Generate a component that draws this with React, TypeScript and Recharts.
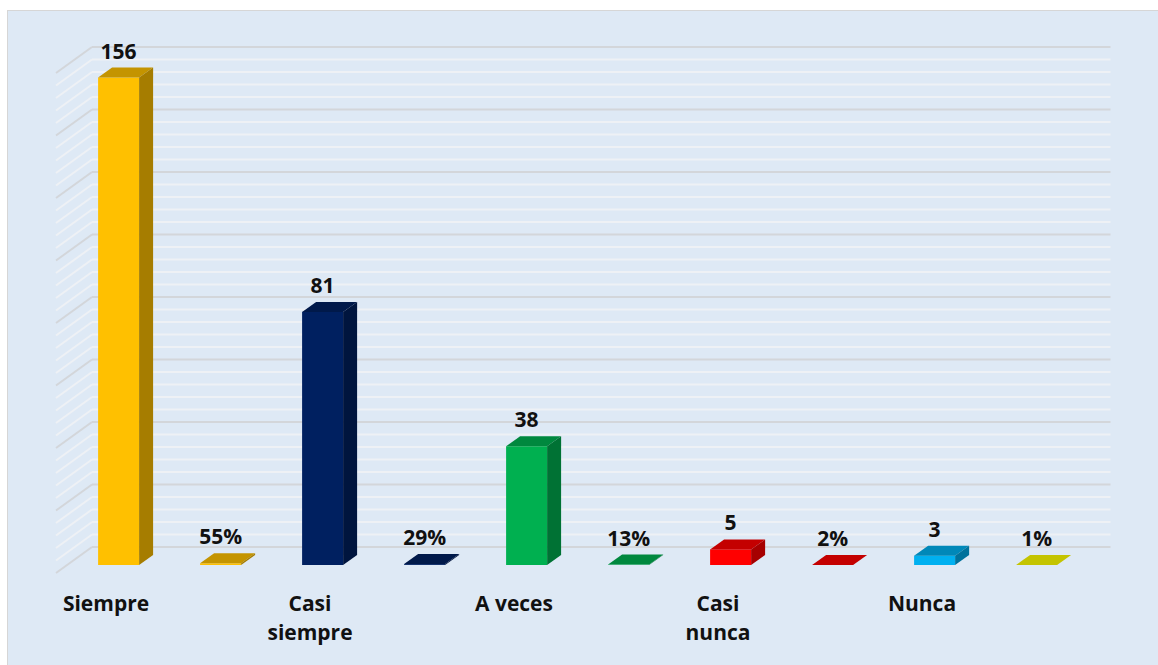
import React from 'react';
import { BarChart, Bar, XAxis, YAxis, CartesianGrid, LabelList } from 'recharts';

const categories = ['Siempre', 'Casi siempre', 'A veces', 'Casi nunca', 'Nunca'];
const counts = [156, 81, 38, 5, 3];
const percents = [55, 29, 13, 2, 1];
const countColors = ['#FFC000', '#002060', '#00B050', '#FF0000', '#00B0F0'];
const percentColors = ['#FFC000', '#002060', '#00B050', '#FF0000', '#FFFF00'];
const majorTicks = [0, 20, 40, 60, 80, 100, 120, 140, 160];

// each major step split in 5 minor lines (as on the back wall)
const gridTicks = majorTicks.flatMap((t, i) =>
  i === majorTicks.length - 1 ? [t] : [0, 1, 2, 3, 4].map((k) => t + (k * (majorTicks[1] - majorTicks[0])) / 5)
);

// count bar then percent bar for every answer
const rows = categories.flatMap((label, i) => [
  { key: `c${i}`, label, value: counts[i], text: String(counts[i]), color: countColors[i] },
  { key: `p${i}`, label: '', value: percents[i] / 100, text: `${percents[i]}%`, color: percentColors[i] },
]);

const FONT = '"Open Sans", "Noto Sans", sans-serif';
const DX = 14; // bar depth
const DY = 10;

const shade = (hex: string, f: number) => {
  const n = parseInt(hex.slice(1), 16);
  const r = Math.round(((n >> 16) & 255) * f);
  const g = Math.round(((n >> 8) & 255) * f);
  const b = Math.round((n & 255) * f);
  return `rgb(${r},${g},${b})`;
};

const BoxBar = (props: any) => {
  const { x, y, width, height, payload } = props;
  const color = payload?.color || '#888';
  const h = Math.max(height, 0);
  return (
    <g>
      <rect x={x} y={y} width={width} height={h} fill={color} />
      <polygon
        points={`${x},${y} ${x + DX},${y - DY} ${x + width + DX},${y - DY} ${x + width},${y}`}
        fill={shade(color, 0.77)}
      />
      <polygon
        points={`${x + width},${y} ${x + width + DX},${y - DY} ${x + width + DX},${y + h - DY} ${x + width},${y + h}`}
        fill={shade(color, 0.65)}
      />
    </g>
  );
};

// back wall + side wall lines drawn from each grid tick
const WallLine = (props: any) => {
  const { x1, x2, y1, index } = props;
  const major = index % 5 === 0;
  const stroke = major ? '#d3d6da' : '#eef1f5';
  return (
    <g key={`wl-${index}`}>
      <line x1={x1 + 24.5} y1={y1 - 18} x2={x2 + 23} y2={y1 - 18} stroke={stroke} strokeWidth={2} />
      <line x1={x1 - 11.5} y1={y1 + 8} x2={x1 + 24.5} y2={y1 - 18} stroke={stroke} strokeWidth={2} />
    </g>
  );
};

const CategoryTick = (props: any) => {
  const { x, y, payload } = props;
  const label = rows[payload.index]?.label;
  if (!label) return null;
  const lines = label.length > 8 ? label.split(' ') : [label];
  const tx = x - 12.5;
  return (
    <text x={tx} y={y + 46} textAnchor="middle" fontFamily={FONT} fontWeight={700} fontSize={21} fill="#111">
      {lines.map((l: string, i: number) => (
        <tspan key={i} x={tx} dy={i === 0 ? 0 : 29}>
          {l}
        </tspan>
      ))}
    </text>
  );
};

const ValueLabel = (props: any) => {
  const { x, y, width, value } = props;
  return (
    <text x={x + width / 2} y={y - 19} textAnchor="middle" fontFamily={FONT} fontWeight={700} fontSize={21} fill="#111">
      {value}
    </text>
  );
};

export default function App() {
  return (
    <div
      style={{
        position: 'fixed',
        left: 7,
        top: 10,
        width: 1151,
        height: 655,
        boxSizing: 'border-box',
        background: '#dee9f5',
        borderTop: '1px solid #d6d6d6',
        borderLeft: '1px solid #d6d6d6',
      }}
    >
      <BarChart
        width={1150}
        height={654}
        data={rows}
        margin={{ top: 54, right: 70.5, left: 59.5, bottom: 0 }}
        barCategoryGap="30%"
      >
        <CartesianGrid vertical={false} horizontal={WallLine} />
        <YAxis hide domain={[0, 160]} ticks={gridTicks} interval={0} />
        <XAxis
          dataKey="key"
          height={100}
          axisLine={false}
          tickLine={false}
          tickSize={0}
          tickMargin={0}
          interval={0}
          tick={CategoryTick}
        />
        <Bar dataKey="value" shape={BoxBar} isAnimationActive={false}>
          <LabelList dataKey="text" content={ValueLabel} />
        </Bar>
      </BarChart>
    </div>
  );
}
